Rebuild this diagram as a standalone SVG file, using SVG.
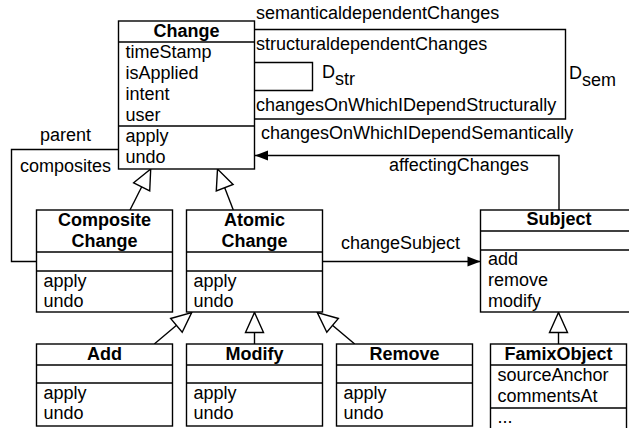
<svg xmlns="http://www.w3.org/2000/svg" width="629" height="428" viewBox="0 0 629 428">
<style>
  .box { fill: #fff; stroke: #000; stroke-width: 1.4; }
  .sep { stroke: #000; stroke-width: 1.4; fill: none; }
  .con { stroke: #000; stroke-width: 1.4; fill: none; }
  text { font-family: "Liberation Sans", Arial, Helvetica, sans-serif; font-size: 18px; fill: #000; }
  .title { font-weight: bold; text-anchor: middle; }
</style>
<defs>
  <marker id="tri" markerUnits="userSpaceOnUse" viewBox="-1 -1 22 20" refX="20" refY="9" markerWidth="22" markerHeight="20" orient="auto" overflow="visible">
    <path d="M0,0 L20,9 L0,18 Z" fill="#fff" stroke="#000" stroke-width="1.4"/>
  </marker>
  <marker id="arr" markerUnits="userSpaceOnUse" viewBox="0 0 13 10" refX="13" refY="5" markerWidth="13" markerHeight="10" orient="auto" overflow="visible">
    <path d="M0,0 L13,5 L0,10 Z" fill="#000"/>
  </marker>
</defs>

<g id="connectors">
  <path class="con" d="M254.5,29.5 H565.5 V119 H254.5"/>
  <path class="con" d="M254.5,62.5 H312.5 V90.5 H254.5"/>
  <path class="con" d="M559,210 V155.5 H255" marker-end="url(#arr)"/>
  <path class="con" d="M118.5,149.5 H11.5 V261.5 H36.5"/>
  <path class="con" d="M130,210 L150.7,169" marker-end="url(#tri)"/>
  <path class="con" d="M233.3,210 L217.5,169" marker-end="url(#tri)"/>
  <path class="con" d="M322.5,261.5 H480.5" marker-end="url(#arr)"/>
  <path class="con" d="M154.3,344 L191.7,312.5" marker-end="url(#tri)"/>
  <path class="con" d="M254.5,344 V312.5" marker-end="url(#tri)"/>
  <path class="con" d="M354.7,344 L317.3,312.5" marker-end="url(#tri)"/>
  <path class="con" d="M558.5,344 V312.5" marker-end="url(#tri)"/>
  <text x="256" y="19">semanticaldependentChanges</text>
  <text x="256" y="50">structuraldependentChanges</text>
  <text x="322" y="78">D<tspan dy="7">str</tspan></text>
  <text x="256" y="111">changesOnWhichIDependStructurally</text>
  <text x="261" y="139">changesOnWhichIDependSemantically</text>
  <text x="569" y="79">D<tspan dy="7">sem</tspan></text>
  <text x="389" y="171">affectingChanges</text>
  <text x="341" y="249">changeSubject</text>
  <text x="40" y="141">parent</text>
  <text x="20" y="172">composites</text>
</g>

<g id="Change">
  <rect class="box" x="118.5" y="21" width="136" height="148"/>
  <line class="sep" x1="118.5" y1="42" x2="254.5" y2="42"/>
  <line class="sep" x1="118.5" y1="126" x2="254.5" y2="126"/>
  <text class="title" x="186.5" y="37">Change</text>
  <text x="125.5" y="58">timeStamp</text>
  <text x="125.5" y="79">isApplied</text>
  <text x="125.5" y="100">intent</text>
  <text x="125.5" y="121">user</text>
  <text x="125.5" y="142">apply</text>
  <text x="125.5" y="163">undo</text>
</g>

<g id="CompositeChange">
  <rect class="box" x="36.5" y="210" width="136" height="102"/>
  <line class="sep" x1="36.5" y1="252" x2="172.5" y2="252"/>
  <line class="sep" x1="36.5" y1="271" x2="172.5" y2="271"/>
  <text class="title" x="104.5" y="226">Composite</text>
  <text class="title" x="104.5" y="247">Change</text>
  <text x="43.5" y="287">apply</text>
  <text x="43.5" y="307">undo</text>
</g>

<g id="AtomicChange">
  <rect class="box" x="186.5" y="210" width="136" height="102"/>
  <line class="sep" x1="186.5" y1="252" x2="322.5" y2="252"/>
  <line class="sep" x1="186.5" y1="271" x2="322.5" y2="271"/>
  <text class="title" x="254.5" y="226">Atomic</text>
  <text class="title" x="254.5" y="247">Change</text>
  <text x="193.5" y="287">apply</text>
  <text x="193.5" y="307">undo</text>
</g>

<g id="Subject">
  <rect class="box" x="480.5" y="210" width="157" height="102"/>
  <line class="sep" x1="480.5" y1="231" x2="637.5" y2="231"/>
  <line class="sep" x1="480.5" y1="250" x2="637.5" y2="250"/>
  <text class="title" x="559" y="225">Subject</text>
  <text x="488" y="265">add</text>
  <text x="488" y="286">remove</text>
  <text x="488" y="307">modify</text>
</g>

<g id="Add">
  <rect class="box" x="36.5" y="344" width="136" height="82"/>
  <line class="sep" x1="36.5" y1="365" x2="172.5" y2="365"/>
  <line class="sep" x1="36.5" y1="383" x2="172.5" y2="383"/>
  <text class="title" x="104.5" y="360">Add</text>
  <text x="43.5" y="399">apply</text>
  <text x="43.5" y="419">undo</text>
</g>

<g id="Modify">
  <rect class="box" x="186.5" y="344" width="136" height="82"/>
  <line class="sep" x1="186.5" y1="365" x2="322.5" y2="365"/>
  <line class="sep" x1="186.5" y1="383" x2="322.5" y2="383"/>
  <text class="title" x="254.5" y="360">Modify</text>
  <text x="193.5" y="399">apply</text>
  <text x="193.5" y="419">undo</text>
</g>

<g id="Remove">
  <rect class="box" x="336.5" y="344" width="136" height="82"/>
  <line class="sep" x1="336.5" y1="365" x2="472.5" y2="365"/>
  <line class="sep" x1="336.5" y1="383" x2="472.5" y2="383"/>
  <text class="title" x="404.5" y="360">Remove</text>
  <text x="343.5" y="399">apply</text>
  <text x="343.5" y="419">undo</text>
</g>

<g id="FamixObject">
  <rect class="box" x="490.5" y="344" width="136" height="92"/>
  <line class="sep" x1="490.5" y1="365" x2="626.5" y2="365"/>
  <line class="sep" x1="490.5" y1="408" x2="626.5" y2="408"/>
  <text class="title" x="558.5" y="360">FamixObject</text>
  <text x="497.5" y="381">sourceAnchor</text>
  <text x="497.5" y="402">commentsAt</text>
  <text x="497.5" y="423">...</text>
</g>
</svg>
